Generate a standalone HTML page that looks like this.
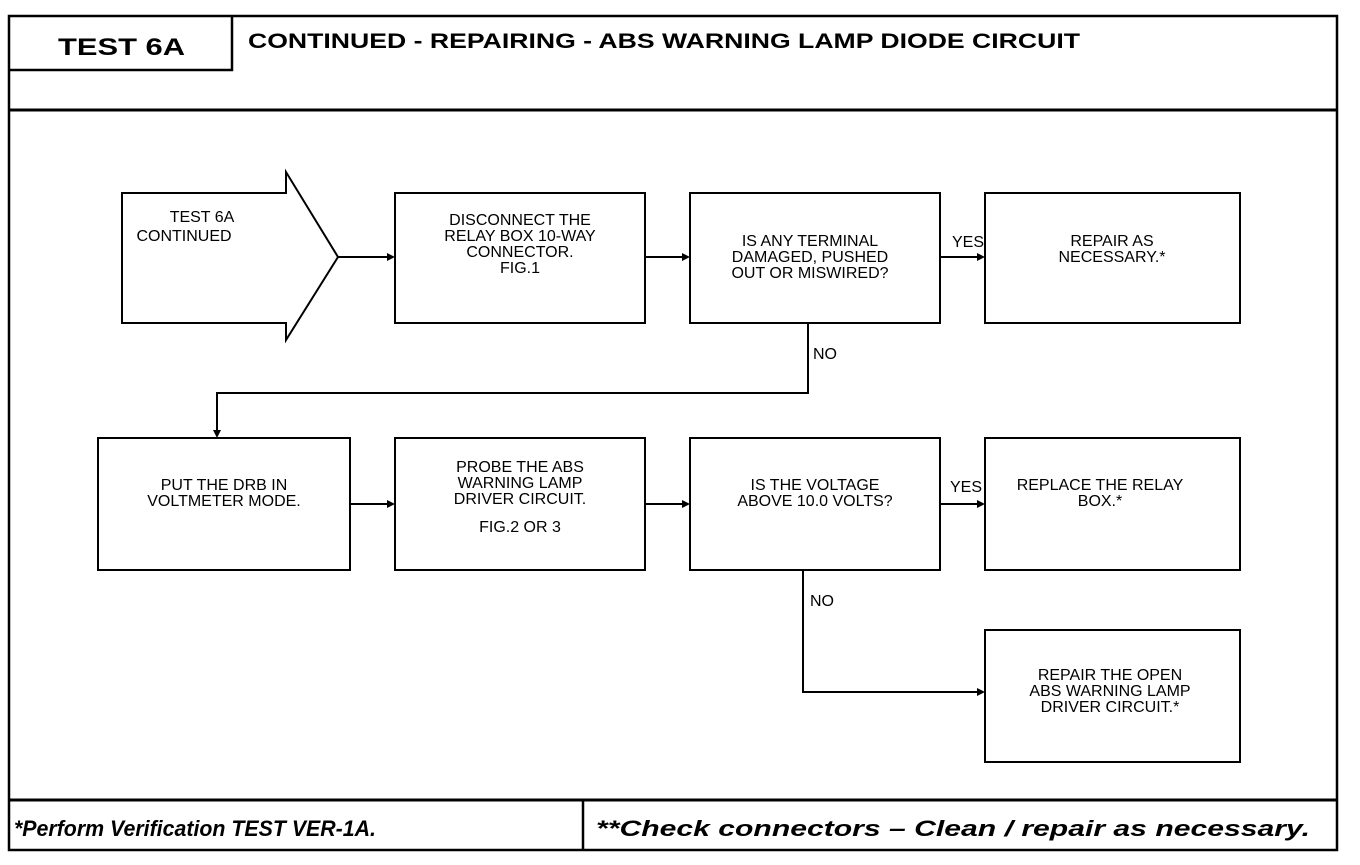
<!DOCTYPE html>
<html><head><style>
body{margin:0;background:#fff;width:1360px;height:860px;overflow:hidden}
svg text{font-family:"Liberation Sans",sans-serif}
.t{font-size:16px;fill:#000}
</style></head><body>
<svg width="1360" height="860" viewBox="0 0 1360 860" xmlns="http://www.w3.org/2000/svg">
<g fill="none" stroke="#000" stroke-width="2.5">
<rect x="9" y="16" width="1328" height="834"/>
<line x1="9" y1="110" x2="1337" y2="110" stroke-width="3"/>
<polyline points="9,70 232,70 232,16"/>
<line x1="9" y1="800" x2="1337" y2="800" stroke-width="3"/>
<line x1="583" y1="800" x2="583" y2="850"/>
<polygon points="122,193 286,193 286,172 338,257 286,340 286,323 122,323" stroke-width="2"/>
<rect x="395" y="193" width="250" height="130" stroke-width="2"/>
<rect x="690" y="193" width="250" height="130" stroke-width="2"/>
<rect x="985" y="193" width="255" height="130" stroke-width="2"/>
<rect x="98" y="438" width="252" height="132" stroke-width="2"/>
<rect x="395" y="438" width="250" height="132" stroke-width="2"/>
<rect x="690" y="438" width="250" height="132" stroke-width="2"/>
<rect x="985" y="438" width="255" height="132" stroke-width="2"/>
<rect x="985" y="630" width="255" height="132" stroke-width="2"/>
<g stroke-width="2">
<line x1="338" y1="257" x2="393" y2="257"/>
<line x1="645" y1="257" x2="688" y2="257"/>
<line x1="940" y1="257" x2="983" y2="257"/>
<polyline points="808,323 808,393 217,393 217,436"/>
<line x1="350" y1="504" x2="393" y2="504"/>
<line x1="645" y1="504" x2="688" y2="504"/>
<line x1="940" y1="504" x2="983" y2="504"/>
<polyline points="803,570 803,692 983,692"/>
</g>
</g>
<g fill="#000">
<polygon points="395,257 387,253 387,261"/>
<polygon points="690,257 682,253 682,261"/>
<polygon points="985,257 977,253 977,261"/>
<polygon points="217,438 213,430 221,430"/>
<polygon points="395,504 387,500 387,508"/>
<polygon points="690,504 682,500 682,508"/>
<polygon points="985,504 977,500 977,508"/>
<polygon points="985,692 977,688 977,696"/>
</g>
<text x="58" y="55" font-size="24" font-weight="bold" textLength="127" lengthAdjust="spacingAndGlyphs">TEST 6A</text>
<text x="248" y="48" font-size="21" font-weight="bold" textLength="832" lengthAdjust="spacingAndGlyphs">CONTINUED - REPAIRING - ABS WARNING LAMP DIODE CIRCUIT</text>
<text x="14" y="836" font-size="22" font-weight="bold" font-style="italic" textLength="362" lengthAdjust="spacingAndGlyphs">*Perform Verification TEST VER-1A.</text>
<text x="596" y="836" font-size="22" font-weight="bold" font-style="italic" textLength="714" lengthAdjust="spacingAndGlyphs">**Check connectors – Clean / repair as necessary.</text>
<g class="t" text-anchor="middle">
<text x="202" y="222">TEST 6A</text><text x="184" y="241">CONTINUED</text>
<text x="520" y="225">DISCONNECT THE</text><text x="520" y="241">RELAY BOX 10-WAY</text><text x="520" y="257">CONNECTOR.</text><text x="520" y="273">FIG.1</text>
<text x="810" y="246">IS ANY TERMINAL</text><text x="810" y="262">DAMAGED, PUSHED</text><text x="810" y="278">OUT OR MISWIRED?</text>
<text x="1112" y="246">REPAIR AS</text><text x="1112" y="262">NECESSARY.*</text>
<text x="224" y="490">PUT THE DRB IN</text><text x="224" y="506">VOLTMETER MODE.</text>
<text x="520" y="472">PROBE THE ABS</text><text x="520" y="488">WARNING LAMP</text><text x="520" y="504">DRIVER CIRCUIT.</text><text x="520" y="532">FIG.2 OR 3</text>
<text x="815" y="490">IS THE VOLTAGE</text><text x="815" y="506">ABOVE 10.0 VOLTS?</text>
<text x="1100" y="490">REPLACE THE RELAY</text><text x="1100" y="506">BOX.*</text>
<text x="1110" y="680">REPAIR THE OPEN</text><text x="1110" y="696">ABS WARNING LAMP</text><text x="1110" y="712">DRIVER CIRCUIT.*</text>
</g>
<g class="t">
<text x="952" y="247">YES</text><text x="813" y="359">NO</text>
<text x="950" y="492">YES</text><text x="810" y="606">NO</text>
</g>
</svg>
</body></html>
